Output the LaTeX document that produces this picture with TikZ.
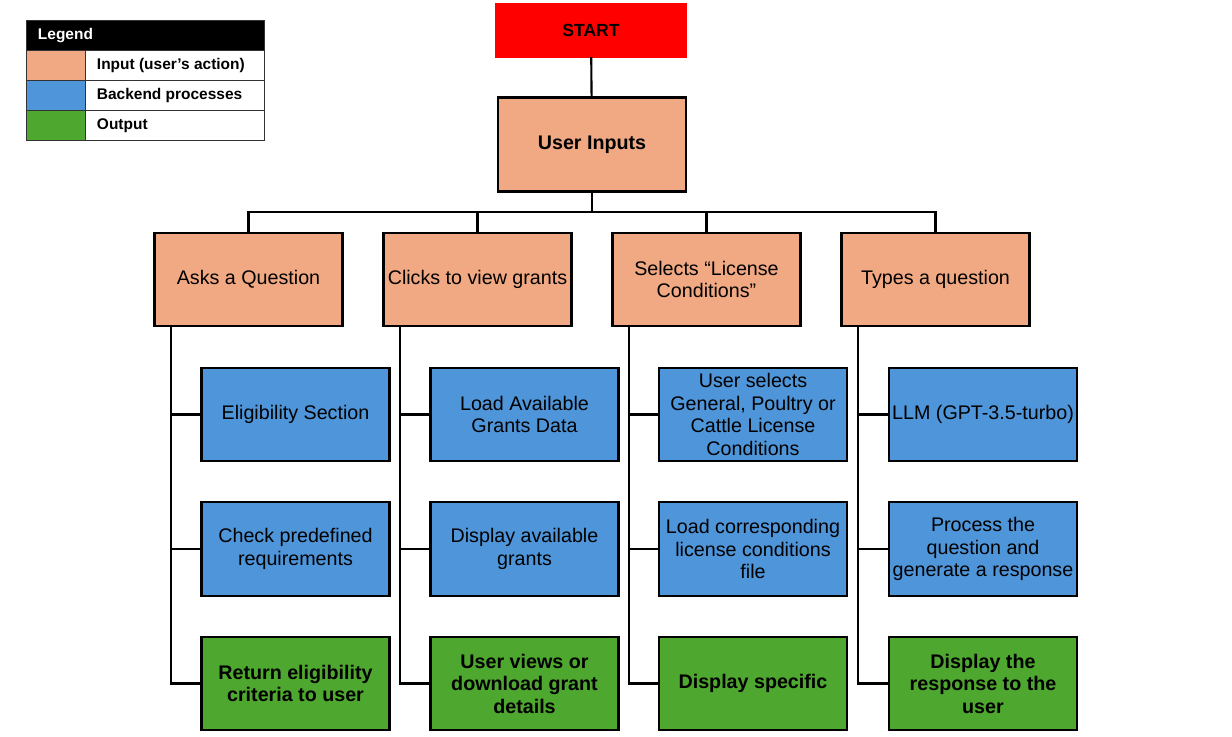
\documentclass[tikz,border=0pt]{standalone}
\usepackage{fontspec}
\setmainfont{Liberation Sans}
\usetikzlibrary{calc}
\definecolor{inputcol}{HTML}{F1A983}
\definecolor{proccol}{HTML}{4E95D9}
\definecolor{outcol}{HTML}{4EA72E}
\definecolor{startcol}{HTML}{FF0000}
\tikzset{
    box/.style={
        draw=black, line width=1.5pt,
        minimum width=4.7cm, minimum height=2.33cm,
        align=center, inner sep=1pt,
        font=\fontsize{14}{16}\selectfont
    },
    inbox/.style={box, fill=inputcol},
    procbox/.style={box, fill=proccol},
    outbox/.style={box, fill=outcol, font=\fontsize{14}{16}\selectfont\bfseries},
    link/.style={line width=1.5pt},
    legtxt/.style={anchor=west, font=\fontsize{11}{13}\selectfont\bfseries}
}

\begin{document}
\begin{tikzpicture}[x=0.025cm,y=-0.025cm,line cap=rect,line join=miter]

% --- canvas (pixel grid of the reference) ---
    \useasboundingbox (0,0) rectangle (1232,737);

% legend
    \fill[black] (26,20) rectangle (264,50);
    \fill[inputcol] (26,50) rectangle (85,80);
    \fill[proccol] (26,80) rectangle (85,110);
    \fill[outcol] (26,110) rectangle (85,140);
    \draw[line width=0.6pt, black!80] (26,20) rectangle (264,140);
    \draw[line width=0.6pt, black!80] (26,50) -- (264,50) (26,80) -- (264,80)
        (26,110) -- (264,110) (85,50) -- (85,140);
    \node[legtxt, text=white] (legtitle) at (33,35.5) {Legend};
    \node[legtxt] (leginput) at (92,65.5) {Input (user’s action)};
    \node[legtxt] (legproc)  at (92,95.5) {Backend processes};
    \node[legtxt] (legout)   at (92,125.5) {Output};

% top of the tree
    \node[fill=startcol, minimum width=4.8cm, minimum height=1.375cm,
          font=\fontsize{12.5}{15}\selectfont\bfseries] (start) at (591,30.5) {START};
    \node[inbox, minimum width=4.72cm, minimum height=2.35cm,
          font=\fontsize{14}{16}\selectfont\bfseries] (ui) at (592,144.5) {User Inputs};
    \coordinate (bus) at (592,212);

% user actions
    \node[inbox] (asks)    at (248.5,279.5) {Asks a Question};
    \node[inbox] (clicks)  at (477.5,279.5) {Clicks to view grants};
    \node[inbox] (selects) at (706.5,279.5) {Selects “License\\Conditions”};
    \node[inbox] (types)   at (935.5,279.5) {Types a question};

% backend, first row
    \node[procbox] (elig)   at (295.5,414.5) {Eligibility Section};
    \node[procbox] (load)   at (524.5,414.5) {Load Available\\Grants Data};
    \node[procbox] (choose) at (753,414.5)   {User selects\\General, Poultry or\\Cattle License\\Conditions};
    \node[procbox] (llm)    at (983,414.5)   {LLM (GPT-3.5-turbo)};

% backend, second row
    \node[procbox] (check)   at (295.5,549) {Check predefined\\requirements};
    \node[procbox] (display) at (524.5,549) {Display available\\grants};
    \node[procbox] (loadlic) at (753,549)   {Load corresponding\\license conditions\\file};
    \node[procbox] (process) at (983,549)   {Process the\\question and\\generate a response};

% outputs
    \node[outbox] (ret)     at (295.5,683.5) {Return eligibility\\criteria to user};
    \node[outbox] (views)   at (524.5,683.5) {User views or\\download grant\\details};
    \node[outbox] (showlic) at (753,683.5)   {Display specific};
    \node[outbox] (answer)  at (983,683.5)   {Display the\\response to the\\user};

% connectors, top
    \draw[link] (start) -- (ui);
    \draw[link] (ui) -- (bus);
    \draw[link] (asks) |- (bus);
    \draw[link] (clicks) |- (bus);
    \draw[link] (selects) |- (bus);
    \draw[link] (types) |- (bus);

% spines down each column
    \coordinate (s1) at ($ (asks.south west) + (18,0) $);
    \coordinate (s2) at ($ (clicks.south west) + (18,0) $);
    \coordinate (s3) at ($ (selects.south west) + (18,0) $);
    \coordinate (s4) at ($ (types.south west) + (18,0) $);

    \draw[link] (s1) |- (ret);
    \draw[link] (s2) |- (views);
    \draw[link] (s3) |- (showlic);
    \draw[link] (s4) |- (answer);

    \draw[link] (elig)  -- (elig.west -| s1);
    \draw[link] (check) -- (check.west -| s1);
    \draw[link] (load)    -- (load.west -| s2);
    \draw[link] (display) -- (display.west -| s2);
    \draw[link] (choose)  -- (choose.west -| s3);
    \draw[link] (loadlic) -- (loadlic.west -| s3);
    \draw[link] (llm)     -- (llm.west -| s4);
    \draw[link] (process) -- (process.west -| s4);

\end{tikzpicture}
\end{document}
